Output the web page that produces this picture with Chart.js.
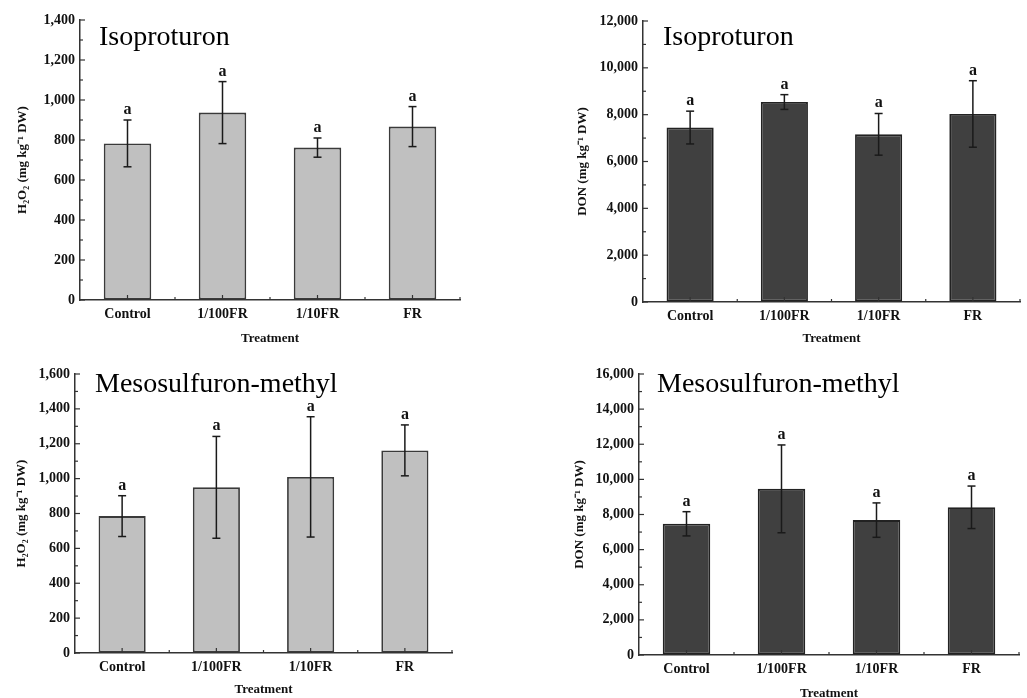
<!DOCTYPE html>
<html><head><meta charset="utf-8">
<script src="https://cdn.jsdelivr.net/npm/chart.js@4/dist/chart.umd.min.js"></script>
<style>
html,body{margin:0;padding:0;background:#fff;width:1027px;height:698px;overflow:hidden;}
.p{position:absolute;}
</style></head><body>
<div class="p" style="left:0;top:0;width:513px;height:349px"><canvas id="c1"></canvas></div>
<div class="p" style="left:513px;top:0;width:514px;height:349px"><canvas id="c2"></canvas></div>
<div class="p" style="left:0;top:349px;width:513px;height:349px"><canvas id="c3"></canvas></div>
<div class="p" style="left:513px;top:349px;width:514px;height:349px"><canvas id="c4"></canvas></div>
<script>
// ---- data ----
const categories = ['Control', '1/100FR', '1/10FR', 'FR'];
const herbicides = ['Isoproturon', 'Mesosulfuron-methyl'];
const xTitle = 'Treatment';
const h2o2Title = 'H\u2082O\u2082 (mg kg\u207B\u00B9 DW)';
const donTitle = 'DON (mg kg\u207B\u00B9 DW)';

const isoH2O2 = [783, 937, 762, 867];
const isoH2O2Err = [117, 155, 48, 100];
const isoDON = [7450, 8540, 7160, 8030];
const isoDONErr = [700, 315, 890, 1420];
const mesoH2O2 = [785, 950, 1010, 1162];
const mesoH2O2Err = [117, 292, 345, 146];
const mesoDON = [7470, 9460, 7680, 8410];
const mesoDONErr = [690, 2500, 980, 1210];
const isoH2O2Letters = ['a', 'a', 'a', 'a'];
const isoDONLetters = ['a', 'a', 'a', 'a'];
const mesoH2O2Letters = ['a', 'a', 'a', 'a'];
const mesoDONLetters = ['a', 'a', 'a', 'a'];

const isoH2O2Ticks = [0, 200, 400, 600, 800, 1000, 1200, 1400];
const isoDONTicks = [0, 2000, 4000, 6000, 8000, 10000, 12000];
const mesoH2O2Ticks = [0, 200, 400, 600, 800, 1000, 1200, 1400, 1600];
const mesoDONTicks = [0, 2000, 4000, 6000, 8000, 10000, 12000, 14000, 16000];

// ---- drawing ----
const SERIF = '"Liberation Serif", "Times New Roman", serif';

const decor = {
  id: 'decor',
  afterDatasetsDraw(chart, args, o) {
    const ctx = chart.ctx, xs = chart.scales.x, ys = chart.scales.y;
    const a = chart.chartArea;
    const vals = chart.data.datasets[0].data;
    ctx.save();
    const line = (x1, y1, x2, y2) => { ctx.beginPath(); ctx.moveTo(x1, y1); ctx.lineTo(x2, y2); ctx.stroke(); };
    // inward ticks
    ctx.strokeStyle = '#333'; ctx.lineWidth = 1.2;
    const yt = ys.ticks.map(t => t.value);
    yt.forEach((v, k) => {
      const py = ys.getPixelForValue(v);
      line(a.left, py, a.left + 5, py);
      if (k < yt.length - 1) {
        const pm = ys.getPixelForValue((v + yt[k + 1]) / 2);
        line(a.left, pm, a.left + 3, pm);
      }
    });
    for (let i = 0; i < vals.length; i++) {
      const px = xs.getPixelForValue(i);
      line(px, a.bottom, px, a.bottom - 5);
      const pb = xs.getPixelForValue(i + 0.5);
      line(pb, a.bottom, pb, a.bottom - 3);
    }
    // error bars + letters
    ctx.strokeStyle = '#1a1a1a'; ctx.lineWidth = 1.5;
    ctx.fillStyle = '#111';
    ctx.font = 'bold 16px ' + SERIF;
    ctx.textAlign = 'center'; ctx.textBaseline = 'alphabetic';
    vals.forEach((v, i) => {
      const px = xs.getPixelForValue(i);
      const t = ys.getPixelForValue(v + o.err[i]);
      const b = ys.getPixelForValue(v - o.err[i]);
      line(px, t, px, b);
      line(px - 4, t, px + 4, t);
      line(px - 4, b, px + 4, b);
      ctx.fillText(o.letters[i], px, t - 6);
    });
    // panel label
    ctx.font = '28px ' + SERIF;
    ctx.textAlign = 'left';
    ctx.fillStyle = '#000';
    ctx.fillText(o.label, o.labelX, o.labelY);
    ctx.restore();
  }
};

function panel(id, values, errs, letters, ticks, label, yTitle, fill, border, L) {
  const W = L.w, H = L.h, xH = 48;
  const padLeft = L.yTitleX - 4 - 7.8;
  new Chart(document.getElementById(id), {
    type: 'bar',
    data: {
      labels: categories,
      datasets: [{
        data: values,
        backgroundColor: fill,
        borderColor: border,
        borderWidth: 1.8,
        borderSkipped: false,
        barPercentage: 0.5,
        categoryPercentage: 1.0
      }]
    },
    options: {
      responsive: true,
      maintainAspectRatio: false,
      animation: false,
      events: [],
      layout: { padding: { left: padLeft, top: L.top, right: W - L.right, bottom: H - L.bottom - xH } },
      plugins: {
        legend: { display: false },
        tooltip: { enabled: false },
        decor: { err: errs, letters: letters, label: label, labelX: L.labelX, labelY: L.labelY }
      },
      scales: {
        x: {
          offset: true,
          grid: { display: true, drawOnChartArea: false, drawTicks: false, offset: true },
          border: { display: true, color: '#333', width: 1.5 },
          ticks: { color: '#111', padding: 6, font: { family: SERIF, size: 14, weight: 'bold' }, maxRotation: 0 },
          title: { display: true, text: xTitle, color: '#111', font: { family: SERIF, size: 13, weight: 'bold' }, padding: { top: 4, bottom: L.xTitlePad } },
          afterFit: s => { s.height = xH; }
        },
        y: {
          min: ticks[0], max: ticks[ticks.length - 1],
          grid: { display: true, drawOnChartArea: false, drawTicks: false },
          border: { display: true, color: '#333', width: 1.5 },
          ticks: { color: '#111', padding: 5, font: { family: SERIF, size: 14, weight: 'bold' } },
          afterBuildTicks: s => { s.ticks = ticks.map(v => ({ value: v })); },
          title: { display: true, text: yTitle, color: '#111', font: { family: SERIF, size: 13, weight: 'bold' }, padding: { top: 4, bottom: 4 } },
          afterFit: s => { s.width = L.left - padLeft; }
        }
      }
    },
    plugins: [decor]
  });
}

const LIGHT = '#c0c0c0', DARK = '#404040';
panel('c1', isoH2O2, isoH2O2Err, isoH2O2Letters, isoH2O2Ticks, herbicides[0], h2o2Title, LIGHT, '#3a3a3a',
  { w: 513, h: 349, left: 80, right: 460, top: 20, bottom: 300, yTitleX: 23, labelX: 99, labelY: 45, xTitlePad: 2 });
panel('c2', isoDON, isoDONErr, isoDONLetters, isoDONTicks, herbicides[0], donTitle, DARK, '#222',
  { w: 514, h: 349, left: 130, right: 507, top: 21, bottom: 302, yTitleX: 70, labelX: 150, labelY: 45, xTitlePad: 4 });
panel('c3', mesoH2O2, mesoH2O2Err, mesoH2O2Letters, mesoH2O2Ticks, herbicides[1], h2o2Title, LIGHT, '#3a3a3a',
  { w: 513, h: 349, left: 75, right: 452, top: 25, bottom: 304, yTitleX: 22, labelX: 95, labelY: 43, xTitlePad: 4 });
panel('c4', mesoDON, mesoDONErr, mesoDONLetters, mesoDONTicks, herbicides[1], donTitle, DARK, '#222',
  { w: 514, h: 349, left: 126, right: 506, top: 25, bottom: 306, yTitleX: 67, labelX: 144, labelY: 43, xTitlePad: 2 });
</script>
</body></html>
